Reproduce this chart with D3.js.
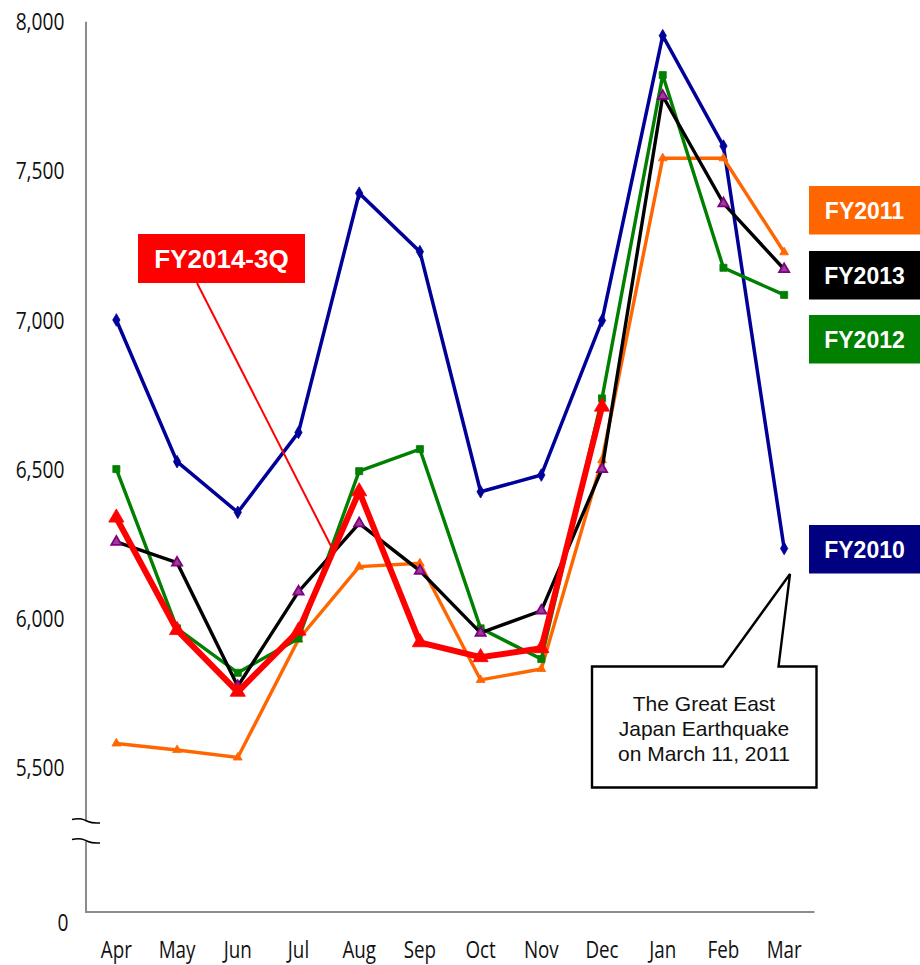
<!DOCTYPE html>
<html>
<head>
<meta charset="utf-8">
<script src="https://cdn.jsdelivr.net/npm/d3@7"></script>
<style>
  html, body { margin: 0; padding: 0; background: #fff; }
  svg { display: block; }
</style>
</head>
<body>
<svg id="chart" width="920" height="965"></svg>
<script>
// Monthly values by fiscal year (April to March)
const months = ["Apr", "May", "Jun", "Jul", "Aug", "Sep", "Oct", "Nov", "Dec", "Jan", "Feb", "Mar"];

const fy2010 = [7000, 6525, 6355, 6623, 7425, 7229, 6424, 6480, 6998, 7953, 7583, 6234];
const fy2011 = [5580, 5558, 5533, 5929, 6173, 6184, 5793, 5830, 6530, 7542, 7542, 7227];
const fy2012 = [6500, 5966, 5817, 5932, 6493, 6567, 5966, 5863, 6737, 7821, 7175, 7084];
const fy2013 = [6256, 6186, 5772, 6089, 6318, 6159, 5951, 6025, 6500, 7751, 7391, 7170];
const fy2014q3 = [6337, 5960, 5753, 5958, 6425, 5919, 5869, 5899, 6709];

const yTicks = [5500, 6000, 6500, 7000, 7500, 8000];
const yFloor = 5015;   // bottom of the broken value axis, labelled "0"
const yTop = 8000;

const svg = d3.select("#chart");

const x = d3.scalePoint().domain(months).range([86, 814.5]).padding(0.5);
const y = d3.scaleLinear().domain([yFloor, yTop]).range([912, 21.7]);

const axisColor = "#8c8c8c";
const tickFont = "'Open Sans', 'Noto Sans', sans-serif";

// ---- axes ----
const gAxes = svg.append("g");
// vertical axis, interrupted by the break marks
const breakTop = 821.5, breakBottom = 841.5;
gAxes.append("line")
  .attr("x1", x.range()[0]).attr("x2", x.range()[0])
  .attr("y1", y(yTop)).attr("y2", breakTop)
  .attr("stroke", axisColor).attr("stroke-width", 2);
gAxes.append("line")
  .attr("x1", x.range()[0]).attr("x2", x.range()[0])
  .attr("y1", breakBottom).attr("y2", y(yFloor) + 1)
  .attr("stroke", axisColor).attr("stroke-width", 2);
// horizontal axis
gAxes.append("line")
  .attr("x1", x.range()[0]).attr("x2", x.range()[1])
  .attr("y1", y(yFloor)).attr("y2", y(yFloor))
  .attr("stroke", axisColor).attr("stroke-width", 2);

// break marks (two small S curves)
[breakTop - 2, breakBottom - 2].forEach(by => {
  gAxes.append("path")
    .attr("d", `M72,${by} C80,${by - 2} 84,${by} 88,${by + 2} S96,${by + 3.5} 100,${by + 3.5}`)
    .attr("fill", "none").attr("stroke", "#000").attr("stroke-width", 1.6);
});

// y tick labels
const yLabelG = svg.append("g").attr("font-family", tickFont).attr("font-size", 24).attr("fill", "#111");
yTicks.forEach(t => {
  yLabelG.append("text")
    .attr("transform", `translate(64.5,${y(t)}) scale(0.8,1)`)
    .attr("text-anchor", "end")
    .attr("dy", "0.36em")
    .text(d3.format(",")(t));
});
yLabelG.append("text")
  .attr("transform", `translate(68.5,${y(yFloor) + 10.5}) scale(0.8,1)`)
  .attr("text-anchor", "end")
  .attr("dy", "0.36em")
  .text("0");

// x tick labels
const xLabelG = svg.append("g").attr("font-family", tickFont).attr("font-size", 23.5).attr("fill", "#111");
months.forEach(m => {
  xLabelG.append("text")
    .attr("transform", `translate(${x(m)},957.5) scale(0.8,1)`)
    .attr("text-anchor", "middle")
    .text(m);
});

// ---- series ----
const line = d3.line().x((d, i) => x(months[i])).y(d => y(d));

const series = [
  { name: "FY2010", values: fy2010, color: "#000099", width: 3.5, marker: "diamond", mSize: 46, mFill: "#000099", mStroke: "#000099" },
  { name: "FY2011", values: fy2011, color: "#ff6600", width: 3.4, marker: "triangle", mSize: 34, mFill: "#ff6600", mStroke: "#ff6600" },
  { name: "FY2012", values: fy2012, color: "#007f00", width: 3.4, marker: "square", mSize: 50, mFill: "#007f00", mStroke: "#007f00" },
  { name: "FY2013", values: fy2013, color: "#000000", width: 3.4, marker: "triangle", mSize: 45, mFill: "#9a3c9a", mStroke: "#800080" },
  { name: "FY2014-3Q", values: fy2014q3, color: "#ff0000", width: 6, marker: "triangle", mSize: 100, mFill: "#ff0000", mStroke: "#ff0000" }
];

const symbolTypes = {
  diamond: d3.symbolDiamond,
  triangle: d3.symbolTriangle,
  square: d3.symbolSquare
};

const gSeries = svg.append("g");
series.forEach(s => {
  const g = gSeries.append("g");
  g.append("path")
    .attr("d", line(s.values))
    .attr("fill", "none")
    .attr("stroke", s.color)
    .attr("stroke-width", s.width)
    .attr("stroke-linejoin", "miter");
  g.selectAll("path.m")
    .data(s.values)
    .join("path")
    .attr("class", "m")
    .attr("transform", (d, i) => `translate(${x(months[i])},${y(d)})`)
    .attr("d", d3.symbol().type(symbolTypes[s.marker]).size(s.mSize))
    .attr("fill", s.mFill)
    .attr("stroke", s.mStroke)
    .attr("stroke-width", s.name === "FY2013" ? 1.8 : 0.8);
});

// ---- series labels ----
const labelFont = "'Liberation Sans', Arial, sans-serif";
function seriesLabel(text, bg, x0, y0, w, h, size, cx) {
  const g = svg.append("g");
  g.append("rect").attr("x", x0).attr("y", y0).attr("width", w).attr("height", h).attr("fill", bg);
  g.append("text")
    .attr("x", cx).attr("y", y0 + h / 2)
    .attr("dy", "0.36em")
    .attr("text-anchor", "middle")
    .attr("font-family", labelFont)
    .attr("font-weight", "bold")
    .attr("font-size", size)
    .attr("fill", "#fff")
    .text(text);
}

// leader line for the current year label
svg.append("line")
  .attr("x1", 197).attr("y1", 283)
  .attr("x2", 332).attr("y2", 548)
  .attr("stroke", "#ff0000").attr("stroke-width", 2);

seriesLabel("FY2014-3Q", "#ff0000", 138, 234, 167, 49, 26, 221.5);
seriesLabel("FY2011", "#ff6600", 809, 186, 111, 48.5, 23, 864.5);
seriesLabel("FY2013", "#000000", 809, 251, 111, 48.5, 23, 864.5);
seriesLabel("FY2012", "#007f00", 809, 315, 111, 48.5, 23, 864.5);
seriesLabel("FY2010", "#000080", 809, 525, 111, 48.5, 23, 864.5);

// ---- earthquake callout ----
const callout = svg.append("g");
callout.append("path")
  .attr("d", "M592,666.5 L723,666.5 L790,574 L778.5,666.5 L816.5,666.5 L816.5,787.5 L592,787.5 Z")
  .attr("fill", "#fff")
  .attr("stroke", "#000")
  .attr("stroke-width", 2.4)
  .attr("stroke-linejoin", "miter");
const calloutLines = ["The Great East", "Japan Earthquake", "on March 11, 2011"];
calloutLines.forEach((t, i) => {
  callout.append("text")
    .attr("x", 704)
    .attr("y", 710.5 + i * 25)
    .attr("text-anchor", "middle")
    .attr("font-family", labelFont)
    .attr("font-size", 21)
    .attr("fill", "#111")
    .text(t);
});
</script>
</body>
</html>
